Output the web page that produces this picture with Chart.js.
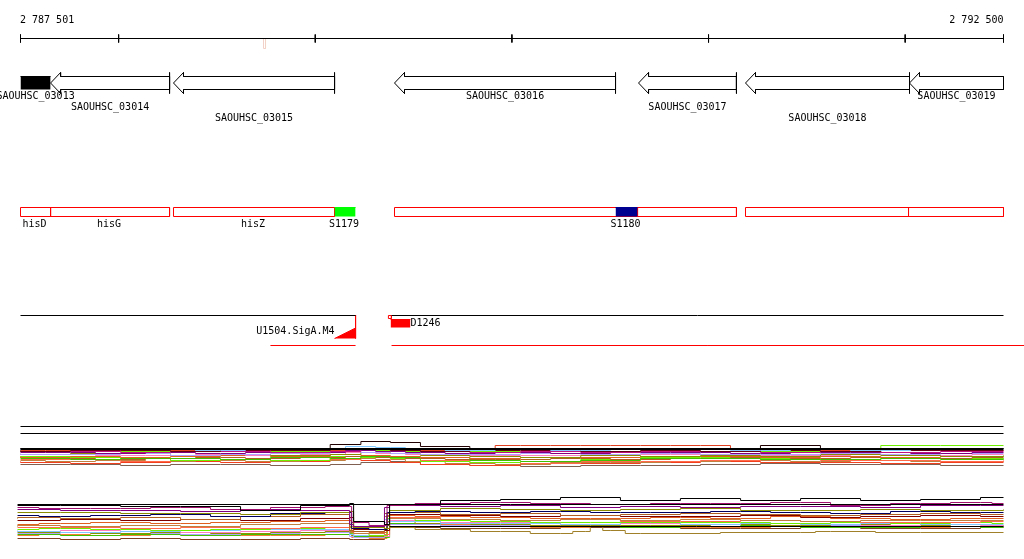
<!DOCTYPE html>
<html>
<head>
<meta charset="utf-8">
<script src="https://cdn.jsdelivr.net/npm/chart.js@4.4.1/dist/chart.umd.min.js"></script>
<style>
  html, body { margin: 0; padding: 0; background: #fff; }
  canvas { display: block; }
</style>
</head>
<body>
<canvas id="browser" width="1024" height="559"></canvas>
<script>
// view window (genome coordinates)
const viewStart = 2787501;
const viewEnd = 2792500;
const rulerTicks = [2787501, 2788000, 2789000, 2790000, 2791000, 2792000, 2792500];
const rulerLabels = ["2 787 501", "2 792 500"];
const cursorPos = 2788742;

// annotated genes (all on reverse strand)
const geneNames = ["SAOUHSC_03013", "SAOUHSC_03014", "SAOUHSC_03015", "SAOUHSC_03016", "SAOUHSC_03017", "SAOUHSC_03018", "SAOUHSC_03019"];
const geneStarts = [2787501, 2787654, 2788279, 2789403, 2790644, 2791188, 2792022];
const geneEnds = [2787654, 2788259, 2789098, 2790527, 2791142, 2792022, 2792500];

// transcribed regions and segments
const regionStarts = [2787501, 2788279, 2789403, 2791188];
const regionEnds = [2788259, 2789098, 2791142, 2792500];
const segmentNames = ["hisD", "hisG", "hisZ"];
const segmentStarts = [2787501, 2787654, 2788279];
const segmentEnds = [2787654, 2788259, 2789098];
const boundaries = [2787654, 2790639, 2792017];
const srnaNames = ["S1179", "S1180"];
const srnaStarts = [2789098, 2790527];
const srnaEnds = [2789205, 2790639];

// promoter and D1246 signal
const promoterName = "U1504.SigA.M4";
const promoterStart = 2789098;
const promoterTss = 2789205;
const signalName = "D1246";
const signalMark = 2789372;
const signalStart = 2789383;
const signalEnd = 2789484;
const coverStarts = [2788772, 2789388];
const coverEnds = [2789205, 2792606];

// expression panel 1 (breakpoints and per-condition levels)
const panel1X = [2787501, 2787755, 2788010, 2788264, 2788518, 2788772, 2789076, 2789232, 2789382, 2789535,
  2789786, 2790044, 2790350, 2790654, 2790959, 2791264, 2791569, 2791876, 2792180, 2792500];
const panel1Series = [
  [22,22,22,22,22,22,26,29,28,24,22,22,22,22,22,25,22,22,22,22],
  [21,21,21,22,20,21,22,24,23,21,20,21,20,21,21,20,21,20,21,22],
  [20,19,20,20,19,20,20,22,21,20,19,20,20,19,20,19,20,19,20,20],
  [19,19,18,19,19,18,19,21,20,19,18,19,18,19,19,18,19,18,19,19],
  [18,18,17,18,17,18,18,20,19,18,17,18,17,18,18,17,18,18,17,18],
  [17,16,16,17,15,16,17,19,18,17,16,16,17,16,17,16,16,17,16,17],
  [16,17,17,15,16,15,16,18,17,15,14,13,15,14,15,14,16,15,14,15],
  [16,16,15,15,16,15,16,18,17,16,15,15,15,16,16,15,15,16,15,16],
  [14,13,14,13,14,15,14,16,15,14,13,12,13,13,14,14,13,14,13,14],
  [12,11,12,12,11,13,12,14,13,13,10,9,10,12,12,11,11,12,11,12],
  [13,12,11,12,13,12,13,14,13,12,11,11,12,11,12,13,12,13,12,13],
  [13,14,13,12,10,11,10,14,13,12,9,8,9,11,13,13,12,11,12,12],
  [11,11,9,10,11,10,11,13,12,10,8,7,9,9,10,11,10,10,9,10],
  [10,9,10,9,10,9,10,12,11,9,7,6,8,8,9,10,9,10,9,9],
  [9,8,7,8,9,8,9,11,10,8,6,5,7,7,8,9,8,8,7,8],
  [6,6,5,6,6,5,6,8,9,6,5,4,5,5,6,7,6,6,5,5],
  [20,20,20,20,20,20,20,21,21,20,21,25,25,25,25,21,20,20,20,20],
  [19,19,19,19,19,19,19,20,20,19,19,19,19,19,19,19,19,19,25,25]
];

// expression panel 2
const panel2X = [2787486, 2787704, 2788010, 2788315, 2788620, 2788925, 2789175, 2789195, 2789352, 2789378,
  2789637, 2789942, 2790247, 2790552, 2790857, 2791163, 2791468, 2791773, 2792078, 2792383, 2792500];
const panel2Series = [
  [40,40,39,39,35,40,42,24,21,41,45,46,48,45,47,45,47,45,46,48,48],
  [38,37,37,38,36,38,39,23,20,40,42,43,42,41,42,42,43,40,42,43,42],
  [36,36,35,35,34,36,35,21,19,38,40,39,40,38,39,38,39,39,38,40,40],
  [33,33,32,32,31,33,34,18,17,35,37,36,35,36,37,35,35,36,35,35,36],
  [30,29,30,31,29,32,33,17,16,33,34,33,34,33,33,34,33,32,34,33,33],
  [27,28,27,28,26,29,31,15,14,32,33,31,32,30,31,32,31,30,31,32,31],
  [25,26,25,26,25,27,28,16,15,31,30,29,30,29,29,30,28,29,30,29,29],
  [21,22,23,22,23,24,25,14,13,30,29,28,27,27,28,27,29,27,26,27,27],
  [19,20,19,20,19,21,22,13,12,29,27,26,25,26,25,26,25,24,25,25,25],
  [18,18,17,18,17,18,19,12,11,28,26,25,26,24,24,25,24,23,23,24,24],
  [16,17,16,15,16,17,18,12,10,27,25,24,23,23,23,23,22,23,22,23,22],
  [15,14,13,14,15,16,16,11,10,26,24,22,22,21,23,21,22,21,22,21,21],
  [14,15,14,13,14,15,15,10,9,25,23,23,21,22,21,22,21,20,21,20,20],
  [13,13,12,13,12,13,14,10,9,24,22,21,20,20,20,21,20,21,20,21,20],
  [12,12,13,12,11,12,13,9,8,23,21,20,20,19,20,19,19,20,19,19,19],
  [11,10,11,10,11,11,12,9,8,22,20,19,19,18,19,20,18,18,19,18,18],
  [10,11,10,11,10,10,11,8,7,21,21,20,18,19,18,18,19,19,18,19,19],
  [7,7,6,7,6,6,7,6,6,20,18,17,17,18,18,17,17,18,17,17,18]
];
const panel2LowX = [2789378, 2789637, 2789941, 2790246, 2790373, 2790424, 2790500, 2790653, 2791467, 2791620, 2792078, 2792500];
const panel2Low = [18, 16, 14, 12, 14, 19, 15, 12, 13, 14, 13, 13];

const panel1Colors = ["#200000", "#80c8ff", "#600010", "#c0107f", "#800080", "#b0a0ff", "#8c8c00", "#ff80c0", "#e06020",
  "#40c000", "#b06020", "#70f000", "#ff6a4a", "#c08040", "#f04020", "#806050", "#e04020", "#70f000"];
const panel2Colors = ["#000000", "#a0106f", "#800080", "#8c8c00", "#000060", "#b06020", "#800000", "#e06020", "#c08040",
  "#ff6a4a", "#70f000", "#80c8ff", "#ff80c0", "#909000", "#b0a0ff", "#40c000", "#f08030", "#804020"];
const stepModes = ["before", "middle", "after"];

// px per bp: view start sits on column 20, view end on column 1003
const bpPerPx = (viewEnd - viewStart) / 983;
const xMin = viewStart - 20.5 * bpPerPx;
const xMax = xMin + 1024 * bpPerPx;

const pts = (xs, ys) => xs.map((x, i) => ({ x: x, y: ys[i] }));
function line(points, color, width, extra) {
  return Object.assign({
    data: points, borderColor: color, backgroundColor: color, borderWidth: width || 1,
    pointRadius: 0, pointHoverRadius: 0, fill: false, tension: 0, order: 0
  }, extra || {});
}
function rect(x1, x2, top, bottom, color) {
  return line([{ x: x1, y: top }, { x: x2, y: top }], color, 1, { fill: { value: bottom } });
}
function outline(x1, x2, top, bottom, color) {
  return line([{ x: x1, y: top }, { x: x2, y: top }, { x: x2, y: bottom }, { x: x1, y: bottom }, { x: x1, y: top }], color, 1);
}

const datasets = [];

// ruler
datasets.push(line([{ x: viewStart, y: 38.5 }, { x: viewEnd, y: 38.5 }], "#000"));
rulerTicks.forEach(t => datasets.push(line([{ x: t, y: 34.5 }, { x: t, y: 42.5 }], "#000")));
datasets.push(outline(cursorPos - bpPerPx, cursorPos + bpPerPx, 38.5, 48.5, "#f2d2c8"));

// genes
const headLen = 10 * bpPerPx;
geneNames.forEach((name, i) => {
  const s = geneStarts[i], e = geneEnds[i];
  if (i === 0) {
    datasets.push(rect(s, e, 76.5, 89.5, "#000"));
    return;
  }
  datasets.push(line([
    { x: s, y: 83 }, { x: s + headLen, y: 72.5 }, { x: s + headLen, y: 76.5 }, { x: e, y: 76.5 },
    { x: e, y: 89.5 }, { x: s + headLen, y: 89.5 }, { x: s + headLen, y: 93.5 }, { x: s, y: 83 }
  ], "#000"));
  if (e < viewEnd) datasets.push(line([{ x: e, y: 72.5 }, { x: e, y: 93.5 }], "#000"));
});

// transcripts / sRNAs
const srnaColors = ["#00ff00", "#000090"];
srnaNames.forEach((n, i) => datasets.push(rect(srnaStarts[i], srnaEnds[i], 207.5, 216.5, srnaColors[i])));
regionStarts.forEach((s, i) => datasets.push(outline(s, regionEnds[i], 207.5, 216.5, "#ff0000")));
boundaries.forEach(b => datasets.push(line([{ x: b, y: 207.5 }, { x: b, y: 216.5 }], "#ff0000")));

// promoter / signal track
datasets.push(line([{ x: viewStart, y: 315.5 }, { x: promoterTss, y: 315.5 }], "#000"));
datasets.push(line([{ x: signalStart + bpPerPx, y: 315.5 }, { x: viewEnd, y: 315.5 }], "#000"));
coverStarts.forEach((s, i) => datasets.push(line([{ x: s, y: 345.5 }, { x: coverEnds[i], y: 345.5 }], "#ff0000")));
datasets.push(line([{ x: promoterStart, y: 338.5 }, { x: promoterTss, y: 328 }], "#ff0000", 1, { fill: { value: 338.5 } }));
datasets.push(line([{ x: promoterTss, y: 315 }, { x: promoterTss, y: 338.5 }], "#ff0000"));
datasets.push(outline(signalMark, signalMark + 3 * bpPerPx, 315.5, 318.5, "#ff0000"));
datasets.push(rect(signalStart, signalEnd, 319.5, 327.5, "#ff0000"));

// separators
datasets.push(line([{ x: viewStart, y: 426.5 }, { x: viewEnd, y: 426.5 }], "#000"));
datasets.push(line([{ x: viewStart, y: 433.5 }, { x: viewEnd, y: 433.5 }], "#000"));

// panel 1
datasets.push(line([{ x: viewStart, y: 449 }, { x: viewEnd, y: 449 }], "#000", 2));
panel1Series.forEach((vals, i) => datasets.push(line(pts(panel1X, vals.map(v => 470.5 - v)), panel1Colors[i], 1,
  { order: 1, stepped: stepModes[i % 3] })));

// panel 2
datasets.push(line([{ x: panel2X[0], y: 504.5 }, { x: viewEnd, y: 504.5 }], "#000"));
datasets.push(line([{ x: panel2LowX[0], y: 526.5 }, { x: viewEnd, y: 526.5 }], "#000"));
datasets.push(line(pts(panel2LowX, panel2Low.map(v => 545.5 - v)), "#a08028", 1, { order: 1, stepped: "middle" }));
panel2Series.forEach((vals, i) => datasets.push(line(pts(panel2X, vals.map(v => 545.5 - v)), panel2Colors[i], 1,
  { order: 1, stepped: stepModes[i % 3] })));

const labelPlugin = {
  id: "trackLabels",
  afterDatasetsDraw(chart) {
    const ctx = chart.ctx;
    const xs = chart.scales.x;
    const px = v => xs.getPixelForValue(v);
    ctx.save();
    ctx.font = '10px "DejaVu Sans Mono"';
    ctx.fillStyle = "#000";
    ctx.textBaseline = "middle";
    ctx.textAlign = "left";
    ctx.fillText(rulerLabels[0], px(viewStart) - 0.5, 20);
    ctx.textAlign = "right";
    ctx.fillText(rulerLabels[1], px(viewEnd), 20);
    ctx.textAlign = "center";
    geneNames.forEach((n, i) => {
      const row = [96, 107, 118][i % 3];
      ctx.fillText(n, px((geneStarts[i] + geneEnds[i]) / 2), row);
    });
    segmentNames.forEach((n, i) => ctx.fillText(n, px((segmentStarts[i] + segmentEnds[i]) / 2) - 1, 224));
    srnaNames.forEach((n, i) => ctx.fillText(n, px((srnaStarts[i] + srnaEnds[i]) / 2) - 1, 224));
    ctx.textAlign = "right";
    ctx.fillText(promoterName, px(promoterStart), 331);
    ctx.textAlign = "left";
    ctx.fillText(signalName, px(signalEnd), 323);
    ctx.restore();
  }
};

new Chart(document.getElementById("browser").getContext("2d"), {
  type: "line",
  data: { datasets: datasets },
  options: {
    responsive: false,
    animation: false,
    devicePixelRatio: 1,
    events: [],
    layout: { padding: 0 },
    scales: {
      x: { type: "linear", min: xMin, max: xMax, display: false },
      y: { type: "linear", min: 0, max: 559, reverse: true, display: false }
    },
    plugins: { legend: { display: false }, tooltip: { enabled: false } }
  },
  plugins: [labelPlugin]
});
</script>
</body>
</html>
